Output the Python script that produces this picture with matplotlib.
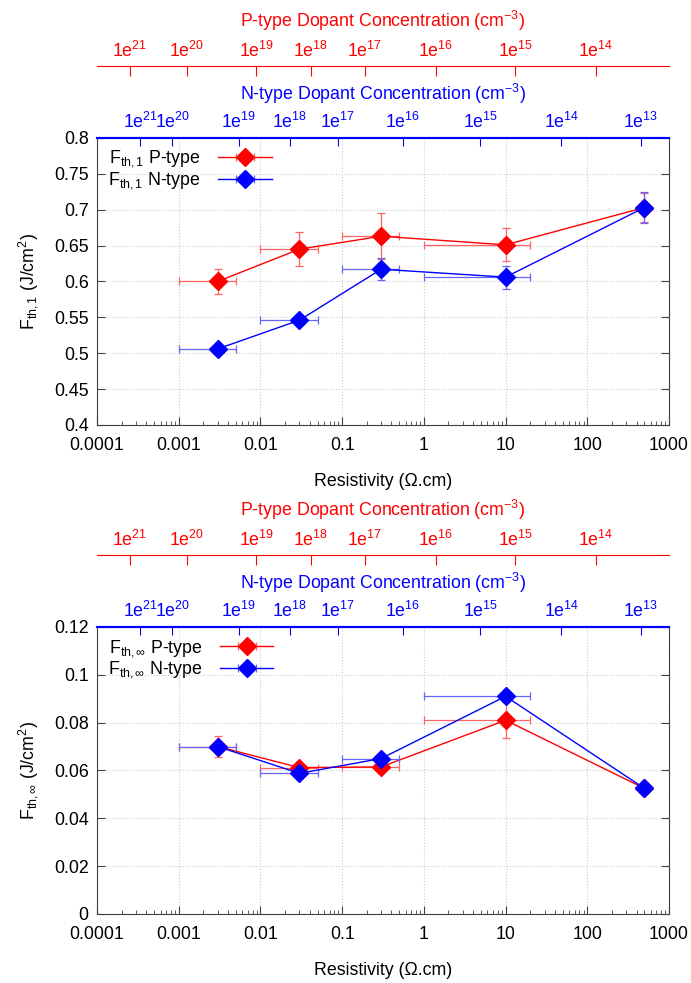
import matplotlib.pyplot as plt
import numpy as np
from matplotlib.ticker import FuncFormatter, LogLocator, NullLocator, MultipleLocator

plt.rcParams['font.family'] = ['Liberation Sans', 'DejaVu Sans']
plt.rcParams['mathtext.fontset'] = 'custom'
plt.rcParams['mathtext.rm'] = 'Liberation Sans'
plt.rcParams['mathtext.it'] = 'Liberation Sans:italic'
plt.rcParams['font.size'] = 12.8

# resistivity of the samples (Ohm.cm) and the x error range
rho = np.array([0.003, 0.03, 0.3, 10, 500])
rho_lo = np.array([0.001, 0.01, 0.1, 1, 500])
rho_hi = np.array([0.005, 0.05, 0.5, 20, 500])

# F_th,1
f1_p = [0.600, 0.645, 0.663, 0.651, 0.703]
f1_p_err = [0.017, 0.024, 0.032, 0.023, 0.020]
f1_n = [0.506, 0.546, 0.617, 0.606, 0.703]
f1_n_err = [0.004, 0.004, 0.015, 0.016, 0.022]

# F_th,inf
finf_p = [0.070, 0.0612, 0.0615, 0.081, 0.0525]
finf_p_err = [0.0045, 0.0015, 0.0015, 0.0075, 0.001]
finf_n = [0.070, 0.0588, 0.065, 0.091, 0.0525]
finf_n_err = [0.001, 0.001, 0.001, 0.001, 0.001]

# dopant concentration ticks, placed at the matching resistivity
p_conc_rho = [2.5e-4, 1.26e-3, 8.9e-3, 0.041, 0.19, 1.4, 13.2, 128]
p_conc_exp = ['21', '20', '19', '18', '17', '16', '15', '14']
n_conc_rho = [3.4e-4, 8.3e-4, 5.4e-3, 0.023, 0.088, 0.55, 4.9, 48, 455]
n_conc_exp = ['21', '20', '19', '18', '17', '16', '15', '14', '13']

xticks = [1e-4, 1e-3, 1e-2, 1e-1, 1, 10, 100, 1000]

RED = '#ff0000'
BLUE = '#0000ff'
RED_E = '#ff6464'
BLUE_E = '#6464ff'
SPINE = '#404040'

fig = plt.figure(figsize=(6.91, 9.83), dpi=100)
ax1 = fig.add_axes([0.1404, 0.5677, 0.8278, 0.2920])
ax2 = fig.add_axes([0.1404, 0.0702, 0.8278, 0.2920])

xerr = [rho - rho_lo, rho_hi - rho]


def series(ax, y, yerr, color, ecolor, label, z):
    ax.errorbar(rho, y, yerr=yerr, fmt='none', ecolor=ecolor, elinewidth=0.9,
                capsize=3, capthick=0.9, zorder=z)
    ax.errorbar(rho, y, xerr=xerr, fmt='D-', color=color, ecolor=ecolor,
                elinewidth=0.9, capsize=3, capthick=0.9, lw=1.0, ms=9,
                label=label, zorder=z)


def style(ax, ylabel):
    ax.set_xscale('log')
    ax.set_xlim(1e-4, 1e3)
    ax.set_xticks(xticks)
    ax.xaxis.set_minor_locator(LogLocator(base=10, subs=np.arange(2, 10)))
    ax.xaxis.set_major_formatter(FuncFormatter(lambda v, p: '%g' % v))
    ax.yaxis.set_major_formatter(FuncFormatter(lambda v, p: '%g' % round(v, 4)))
    ax.tick_params(which='both', direction='in', right=True, top=False,
                   color=SPINE)
    ax.tick_params(which='major', length=6)
    ax.tick_params(which='minor', length=3)
    ax.tick_params(axis='x', pad=9)
    ax.tick_params(axis='y', pad=6)
    ax.grid(True, which='major', ls=':', color='#cccccc', lw=0.8)
    for s in ['left', 'right', 'bottom']:
        ax.spines[s].set_color(SPINE)
    ax.spines['top'].set_color(BLUE)
    ax.spines['top'].set_linewidth(1.5)
    ax.set_xlabel('Resistivity (\u03a9.cm)', labelpad=13)
    ax.set_ylabel(ylabel, labelpad=10)

    blue = ax.secondary_xaxis('top')
    blue.set_xticks(n_conc_rho, labels=[r'1e$^{\mathregular{%s}}$' % e for e in n_conc_exp])
    blue.xaxis.set_minor_locator(NullLocator())
    blue.tick_params(axis='x', which='major', direction='in', length=6,
                     color=BLUE, labelcolor=BLUE, pad=4)
    blue.spines['top'].set_color(BLUE)
    blue.spines['top'].set_linewidth(1.5)
    blue.set_xlabel('N-type Dopant Concentration (cm$^{\mathregular{-3}}$)',
                    color=BLUE, labelpad=9)

    red = ax.secondary_xaxis(1.25)
    red.set_xticks(p_conc_rho, labels=[r'1e$^{\mathregular{%s}}$' % e for e in p_conc_exp])
    red.xaxis.set_minor_locator(NullLocator())
    red.tick_params(axis='x', which='major', direction='in', length=7,
                    color=RED, labelcolor=RED, pad=4)
    red.spines['top'].set_color(RED)
    red.set_xlabel('P-type Dopant Concentration (cm$^{\mathregular{-3}}$)',
                   color=RED, labelpad=10)

    ax.legend(loc='upper left', frameon=False, markerfirst=False,
              handlelength=3.0, borderaxespad=0.3, labelspacing=0.05,
              handletextpad=1.0, borderpad=0.3)


series(ax1, f1_p, f1_p_err, RED, RED_E, r'F$_{\mathregular{th,1}}$ P-type', 3)
series(ax1, f1_n, f1_n_err, BLUE, BLUE_E, r'F$_{\mathregular{th,1}}$ N-type', 4)
ax1.set_ylim(0.4, 0.8)
ax1.yaxis.set_major_locator(MultipleLocator(0.05))
style(ax1, r'F$_{\mathregular{th,1}}$ (J/cm$^{\mathregular{2}}$)')

series(ax2, finf_p, finf_p_err, RED, RED_E, r'F$_{\mathregular{th,}\infty}$ P-type', 3)
series(ax2, finf_n, finf_n_err, BLUE, BLUE_E, r'F$_{\mathregular{th,}\infty}$ N-type', 4)
ax2.set_ylim(0, 0.12)
ax2.yaxis.set_major_locator(MultipleLocator(0.02))
style(ax2, r'F$_{\mathregular{th,}\infty}$ (J/cm$^{\mathregular{2}}$)')

fig.savefig('out.png', dpi=100)
